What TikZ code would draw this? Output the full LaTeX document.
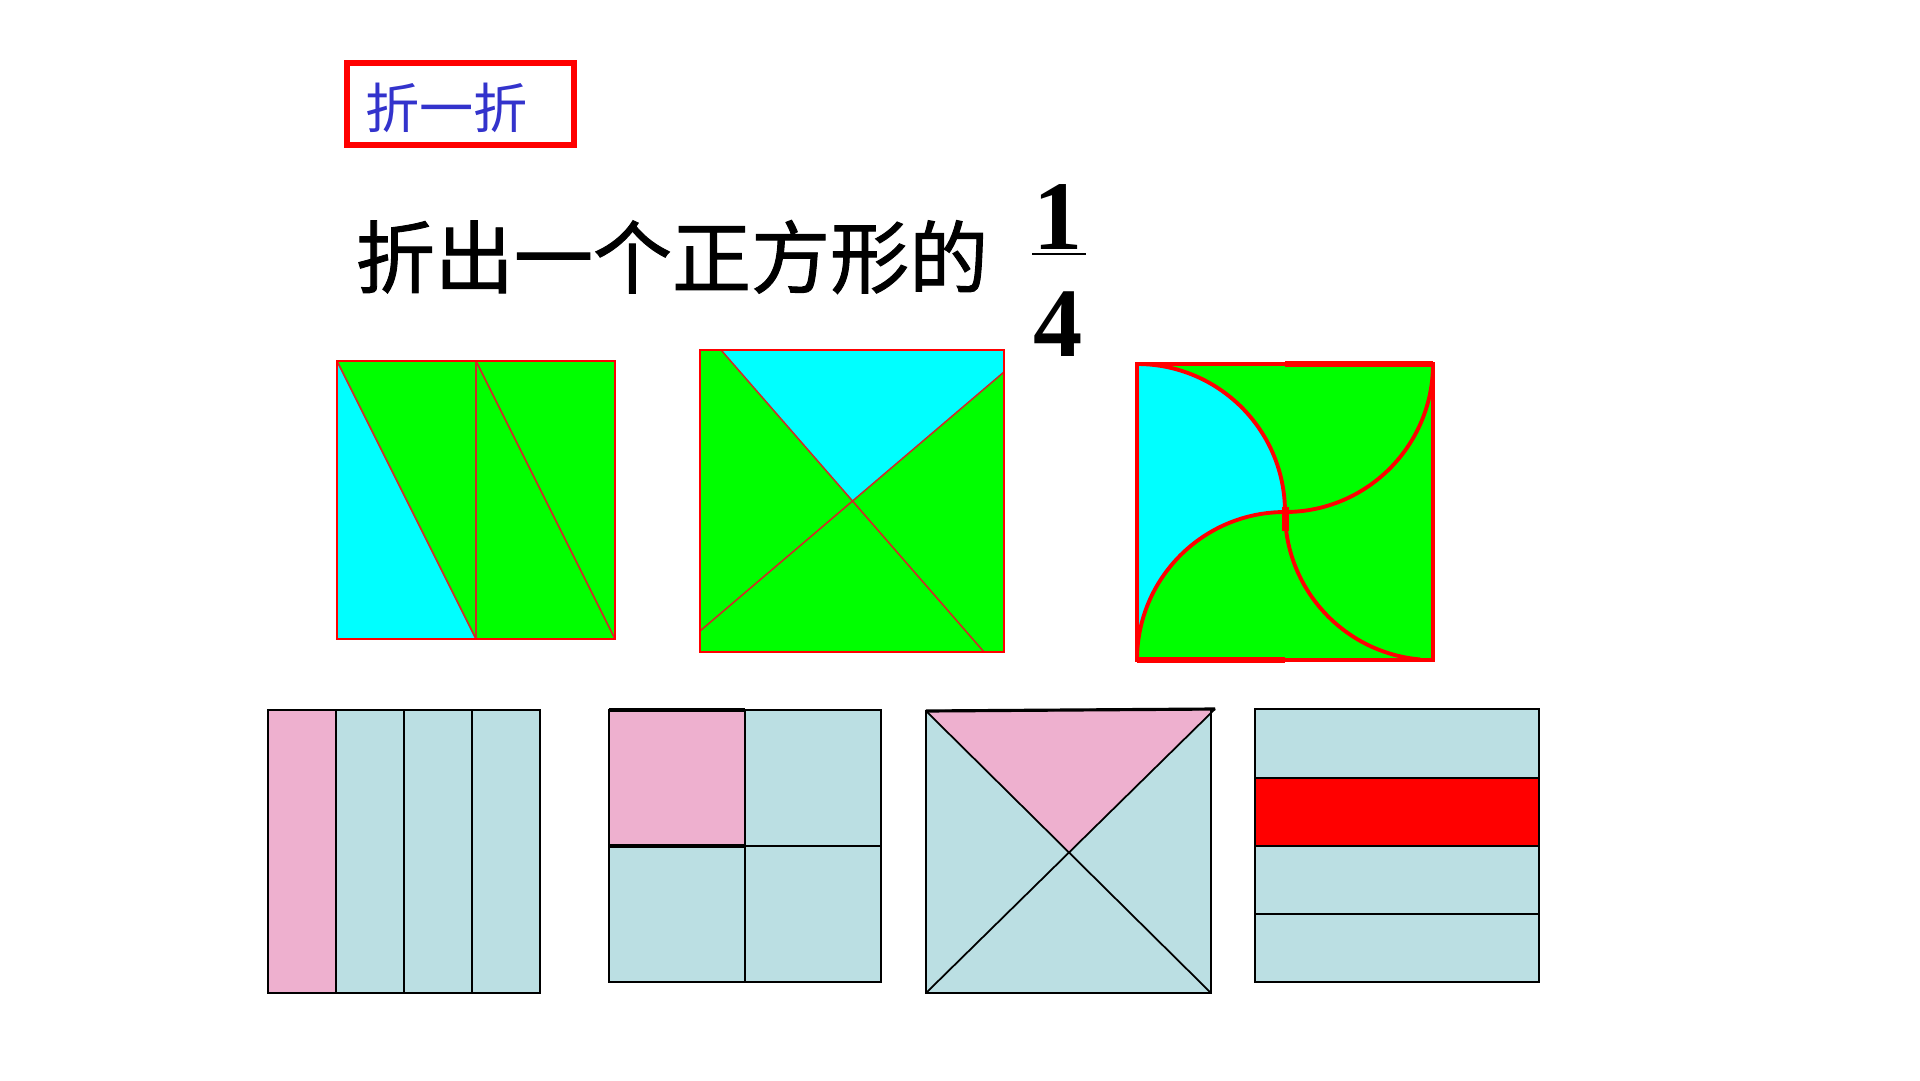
\documentclass[tikz,border=0pt]{standalone}
\usepackage{fontspec}
\setmainfont{Liberation Serif}
\newfontfamily\cjk{Noto Sans CJK SC}
\newfontfamily\cjkheavy{Noto Sans CJK SC}[FakeBold=1.2]
\usetikzlibrary{positioning}
\definecolor{fgreen}{RGB}{0,255,0}
\definecolor{fcyan}{RGB}{0,255,255}
\definecolor{fpink}{RGB}{238,176,207}
\definecolor{fblue}{RGB}{187,223,227}
\definecolor{fred}{RGB}{255,0,0}
\definecolor{fline}{RGB}{205,45,40}
\definecolor{ftext}{RGB}{51,51,204}
\tikzstyle{tagbox} = [draw=fred, line width=1.7pt]
\tikzstyle{topsq} = [draw=fred, line width=0.6pt]
\tikzstyle{crease} = [draw=fline, line width=0.45pt]
\tikzstyle{botsq} = [draw=black, line width=0.5pt]
\tikzstyle{curl} = [draw=fred, line width=1.1pt]

\begin{document}
\begin{tikzpicture}[x=0.1mm, y=0.1mm]
\useasboundingbox (0,0) rectangle (1920,1080);
\fill[white] (0,0) rectangle (1920,1080);

% Tag
\node (foldtag) [font=\cjk\fontsize{15.4}{18}\selectfont, text=ftext, anchor=west, inner sep=0] at (365,972) {折一折};
\draw[tagbox] (347,935) rectangle (574,1017);

% Title with fraction
\node (title) [font=\cjkheavy\fontsize{22.5}{26}\selectfont, anchor=west, inner sep=0] at (355,823) {折出一个正方形的};
\node (one) [font=\bfseries\fontsize{28}{32}\selectfont, inner sep=0] at (1058,863) {1};
\node (four) [font=\bfseries\fontsize{28}{32}\selectfont, inner sep=0, below=4.1mm of one] {4};
\draw[line width=0.6pt] ([xshift=-2.6mm,yshift=-0.4mm]one.south) -- ([xshift=2.8mm,yshift=-0.4mm]one.south);

% Fold 1: two strips
\fill[fgreen] (337,441) rectangle (615,719);
\fill[fcyan] (337,719) -- (476,441) -- (337,441) -- cycle;
\draw[crease] (337,719) -- (476,441) (476,719) -- (476,441) (476,719) -- (615,441);
\draw[topsq] (337,441) rectangle (615,719);

% Fold 2: crossed
\coordinate (xa) at (721,730);
\coordinate (xb) at (984,428);
\coordinate (xc) at (1004,708);
\coordinate (xd) at (700,449);
\coordinate (xm) at (intersection of xa--xb and xc--xd);
\fill[fgreen] (700,428) rectangle (1004,730);
\fill[fcyan] (xa) -- (1004,730) -- (xc) -- (xm) -- cycle;
\draw[crease] (xa) -- (xb) (xc) -- (xd);
\draw[topsq] (700,428) rectangle (1004,730);

% Fold 3: pinwheel
\fill[fgreen] (1137,420) rectangle (1433,716);
\fill[fcyan] (1137,716) arc[start angle=90, end angle=0, radius=148]
  arc[start angle=90, end angle=180, radius=148] -- cycle;
\draw[curl] (1137,716) arc[start angle=90, end angle=0, radius=148];
\draw[curl] (1285,568) arc[start angle=90, end angle=180, radius=148];
\draw[curl] (1285,568) arc[start angle=270, end angle=360, radius=148];
\draw[curl] (1285,568) arc[start angle=180, end angle=265, radius=148];
\fill[fred] (1282,549) rectangle (1289,573);
\draw[topsq, line width=1pt] (1137,420) rectangle (1433,716);
\draw[fred, line width=1.5pt] (1137,420) -- (1285,420) (1285,716) -- (1433,716);

% Answer 1: columns
\fill[fblue] (268,87) rectangle (540,370);
\fill[fpink] (268,87) rectangle (336,370);
\foreach \x in {336,404,472}
  \draw[botsq] (\x,87) -- (\x,370);
\draw[botsq] (268,87) rectangle (540,370);

% Answer 2: quarters
\fill[fblue] (609,98) rectangle (881,370);
\fill[fpink] (609,234) rectangle (745,370);
\draw[botsq] (745,98) -- (745,370) (609,234) -- (881,234);
\draw[black, line width=1pt] (609,370) -- (745,370) (609,234) -- (745,234);
\draw[botsq] (609,98) rectangle (881,370);

% Answer 3: diagonals
\coordinate (tl) at (926,369);
\coordinate (tr) at (1215,371);
\coordinate (bl) at (926,87);
\coordinate (br) at (1211,87);
\coordinate (tm) at (intersection of tl--br and tr--bl);
\fill[fblue] (bl) rectangle (1211,369);
\fill[fpink] (tl) -- (tr) -- (tm) -- cycle;
\draw[botsq] (tl) -- (br) (tr) -- (bl);
\draw[botsq] (tr) -- (tl) -- (bl) -- (br) -- (1211,370);
\draw[black, line width=0.9pt] (tl) -- (tr);

% Answer 4: rows
\fill[fblue] (1255,98) rectangle (1539,371);
\fill[fred] (1255,234) rectangle (1539,302);
\foreach \y in {166,234,302}
  \draw[botsq] (1255,\y) -- (1539,\y);
\draw[botsq] (1255,98) rectangle (1539,371);

\end{tikzpicture}
\end{document}
